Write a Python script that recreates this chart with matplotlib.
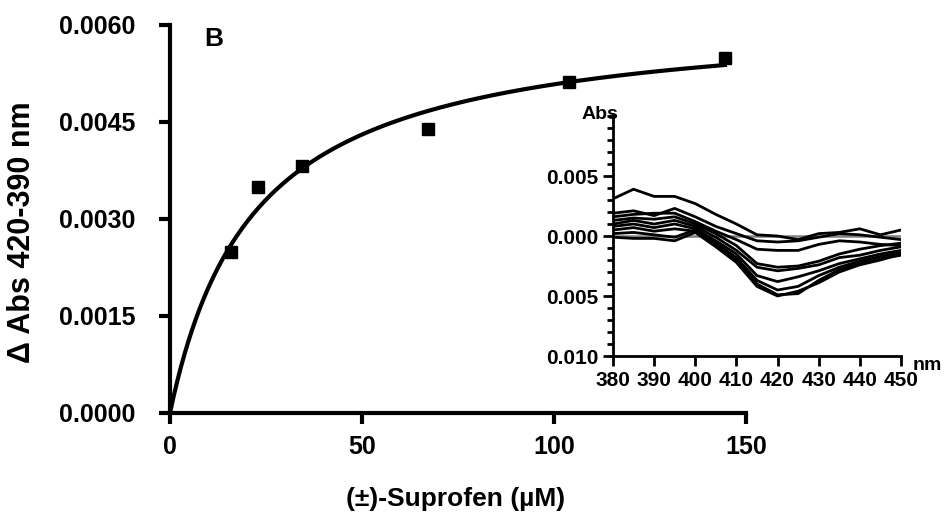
import numpy as np
import matplotlib
matplotlib.use('Agg')
import matplotlib.pyplot as plt
from matplotlib.ticker import MultipleLocator, FuncFormatter

plt.rcParams['font.family'] = ['Liberation Sans', 'DejaVu Sans']

# Binding data, main panel
conc = [15.8, 22.9, 34.4, 67.2, 103.9, 144.5]          # uM
dabs = [0.00249, 0.00350, 0.00382, 0.00439, 0.00512, 0.00549]
bmax = 0.0062   # hyperbolic fit parameters
kd = 22.0

# Difference spectra, inset (values in 1e-3 Abs)
wavelength = [380, 385, 390, 395, 400, 405, 410, 415, 420, 425, 430, 435, 440, 445, 450]
spec1 = [3.1, 3.9, 3.3, 3.3, 2.7, 1.8, 1.0, 0.1, 0.0, -0.3, 0.2, 0.3, 0.6, 0.1, 0.5]
spec2 = [1.9, 2.1, 1.7, 2.3, 1.6, 0.8, 0.2, -0.4, -0.5, -0.4, -0.1, 0.2, 0.1, -0.1, -0.3]
spec3 = [1.6, 1.8, 1.9, 1.9, 1.2, 0.4, -0.3, -1.1, -1.2, -1.2, -0.7, -0.4, -0.5, -0.7, -0.8]
spec4 = [1.3, 1.5, 1.4, 1.6, 1.0, 0.2, -0.8, -2.3, -2.6, -2.5, -2.1, -1.5, -1.1, -0.8, -0.6]
spec5 = [1.0, 1.3, 1.0, 1.3, 0.8, -0.1, -1.2, -2.6, -2.9, -2.7, -2.4, -1.8, -1.6, -1.2, -0.9]
spec6 = [0.8, 1.0, 0.7, 1.0, 0.6, -0.4, -1.5, -3.3, -3.8, -3.4, -2.9, -2.3, -1.9, -1.5, -1.2]
spec7 = [0.5, 0.7, 0.4, 0.6, 0.4, -0.6, -1.8, -3.7, -4.5, -4.2, -3.3, -2.6, -2.1, -1.7, -1.4]
spec8 = [0.2, 0.3, 0.1, -0.1, 0.5, -0.8, -2.0, -4.0, -4.9, -4.8, -3.7, -2.8, -2.3, -1.9, -1.6]
spec9 = [-0.1, -0.2, -0.2, -0.4, 0.3, -0.9, -2.2, -4.2, -5.0, -4.6, -3.9, -3.0, -2.4, -2.0, -1.5]
baseline = [0.0] * len(wavelength)

fig = plt.figure(figsize=(9.48, 5.17), dpi=100)
ax = fig.add_axes([0.1793, 0.2012, 0.6076, 0.7505])

# fitted hyperbola
xfit = np.linspace(0, max(conc), 300)
ax.plot(xfit, bmax * xfit / (kd + xfit), color='black', lw=3, clip_on=False)
ax.plot(conc, dabs, 's', color='black', ms=9, clip_on=False)

ax.set_xlim(0, 150)
ax.set_ylim(0, 0.006)
ax.set_xticks([0, 50, 100, 150])
ax.set_yticks([0, 0.0015, 0.0030, 0.0045, 0.0060])
ax.yaxis.set_major_formatter(FuncFormatter(lambda v, p: f'{v:.4f}'))
for s in ['top', 'right']:
    ax.spines[s].set_visible(False)
for s in ['left', 'bottom']:
    ax.spines[s].set_linewidth(3)
ax.tick_params(axis='both', direction='out', length=8, width=3, labelsize=18)
ax.tick_params(axis='y', pad=17)
ax.tick_params(axis='x', pad=8)
plt.setp(ax.get_xticklabels() + ax.get_yticklabels(), fontweight='bold')

fig.text(22 / 948, 1 - 232 / 517, 'Δ Abs 420-390 nm', fontsize=22, fontweight='bold',
         rotation=90, ha='center', va='center')
ax.set_xlabel('(±)-Suprofen (µM)', fontsize=19, fontweight='bold')
ax.xaxis.set_label_coords(0.495, -0.19)
ax.text(0.06, 0.964, 'B', transform=ax.transAxes, fontsize=19, fontweight='bold',
        ha='left', va='center')

# inset with difference spectra
ins = fig.add_axes([0.6466, 0.3114, 0.3038, 0.4642])
ins.patch.set_alpha(0)
ins.plot(wavelength, np.array(baseline) * 1e-3, color='#808080', lw=1.8)
for spec in [spec1, spec2, spec3, spec4, spec5, spec6, spec7, spec8, spec9]:
    ins.plot(wavelength, np.array(spec) * 1e-3, color='black', lw=2.0)

ins.set_xlim(380, 450)
ins.set_ylim(-0.010, 0.010)
ins.set_xticks(range(380, 451, 10))
ins.set_yticks([-0.010, -0.005, 0.0, 0.005])
ins.yaxis.set_minor_locator(MultipleLocator(0.001))
ins.yaxis.set_major_formatter(FuncFormatter(lambda v, p: f'{abs(v):.3f}'))
for s in ['top', 'right']:
    ins.spines[s].set_visible(False)
for s in ['left', 'bottom']:
    ins.spines[s].set_linewidth(2)
ins.tick_params(axis='both', which='major', direction='out', length=7, width=2, labelsize=15)
ins.tick_params(axis='y', which='minor', direction='out', length=4, width=2)
ins.tick_params(axis='x', pad=4)
plt.setp(ins.get_xticklabels() + ins.get_yticklabels(), fontweight='bold')
ins.text(0.02, 1.008, 'Abs', transform=ins.transAxes, fontsize=14, fontweight='bold',
         ha='right', va='center')
ins.text(1.04, -0.04, 'nm', transform=ins.transAxes, fontsize=14, fontweight='bold',
         ha='left', va='center')

fig.savefig('out.png', dpi=100)
